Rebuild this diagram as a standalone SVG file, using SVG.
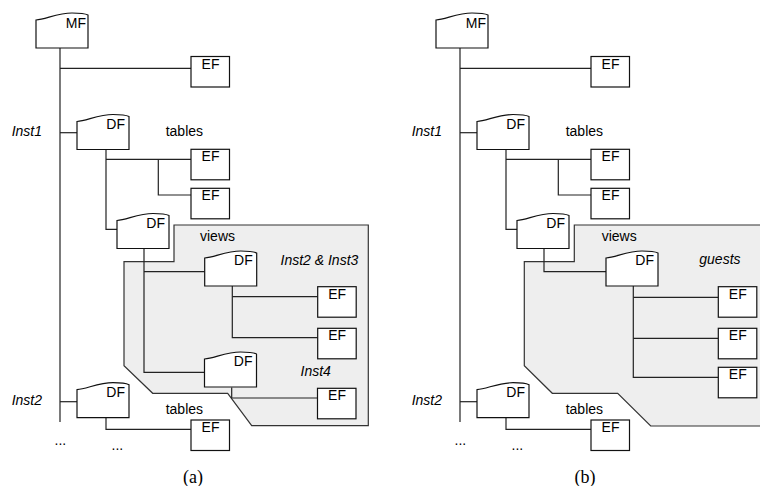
<svg xmlns="http://www.w3.org/2000/svg" xmlns:xlink="http://www.w3.org/1999/xlink" width="760" height="486" viewBox="0 0 760 486">
<style>
.box{fill:#fff;stroke:#111;stroke-width:1.2}
.ln{fill:none;stroke:#222;stroke-width:1.2}
.reg{fill:#eeeeee;stroke:#333;stroke-width:1.2}
.t{font-family:"Liberation Sans",Arial,sans-serif;font-size:14px;fill:#000}
.i{font-style:italic}
.m{text-anchor:middle}
.e{text-anchor:end}
.cap{font-family:"Liberation Serif","Times New Roman",serif;font-size:18px;text-anchor:middle;fill:#000}
</style>
<defs>
<path id="doc" d="M0,35 V7 C10,6 22,0 36,0 C44,0 49,0.5 52,2 V35 Z"/>
<rect id="ef" x="0" y="0" width="38.5" height="30.5"/>
</defs>

<g id="regions">
<path class="reg" d="M174,225 H368.3 V425.7 H251.7 L227.7,393.3 H152.7 L124,365.7 V261.7 H174 Z"/>
<path class="reg" d="M574.3,225 H772 V426 H650.7 L617.7,393.3 H552.3 L524.3,365.7 V261.7 H574.3 Z"/>
</g>

<g id="connectors">
<!-- (a) -->
<path class="ln" d="M60,48 V422"/>
<path class="ln" d="M60,68.3 H191"/>
<path class="ln" d="M60,132.7 H77"/>
<path class="ln" d="M106,149.5 V229.3 H117"/>
<path class="ln" d="M106,159.3 H191"/>
<path class="ln" d="M158.3,159.3 V195 H191"/>
<path class="ln" d="M144,248.5 V372.3 H204.5"/>
<path class="ln" d="M144,271.7 H204.7"/>
<path class="ln" d="M232.3,285.5 V337.7 H317.7"/>
<path class="ln" d="M232.3,296.7 H317.7"/>
<path class="ln" d="M231.7,387.5 V398 H317"/>
<path class="ln" d="M60,401.7 H77"/>
<path class="ln" d="M106,417.5 V429.3 H191"/>
<!-- (b) -->
<path class="ln" d="M460,48 V422"/>
<path class="ln" d="M460,68.3 H591"/>
<path class="ln" d="M460,132.7 H477"/>
<path class="ln" d="M506,149.5 V229.3 H517"/>
<path class="ln" d="M506,159.3 H591"/>
<path class="ln" d="M558.3,159.3 V195 H591"/>
<path class="ln" d="M544,248.5 V271.7 H606"/>
<path class="ln" d="M633.3,285.5 V377.3 H718.3"/>
<path class="ln" d="M633.3,297.3 H718.3"/>
<path class="ln" d="M633.3,338.3 H718.3"/>
<path class="ln" d="M460,401.7 H477"/>
<path class="ln" d="M506,417.5 V429.3 H591"/>
</g>

<!-- panel (a) nodes -->
<g id="a-mf" transform="translate(36,13)"><use href="#doc" class="box"/><text class="t e" x="50" y="14.7">MF</text></g>
<g id="a-ef1" transform="translate(191,56.5)"><use href="#ef" class="box"/><text class="t m" x="19.5" y="12">EF</text></g>
<g id="a-df1" transform="translate(77,114.5)"><use href="#doc" class="box"/><text class="t e" x="48" y="14">DF</text></g>
<g id="a-ef2" transform="translate(191,149.3)"><use href="#ef" class="box"/><text class="t m" x="19.5" y="12">EF</text></g>
<g id="a-ef3" transform="translate(191,188.3)"><use href="#ef" class="box"/><text class="t m" x="19.5" y="12">EF</text></g>
<g id="a-df2" transform="translate(117,213.5)"><use href="#doc" class="box"/><text class="t e" x="48" y="14">DF</text></g>
<g id="a-df3" transform="translate(204.7,251)"><use href="#doc" class="box"/><text class="t e" x="48" y="14">DF</text></g>
<g id="a-ef4" transform="translate(317.7,286.7)"><use href="#ef" class="box"/><text class="t m" x="19.5" y="12">EF</text></g>
<g id="a-ef5" transform="translate(317.7,328.3)"><use href="#ef" class="box"/><text class="t m" x="19.5" y="12">EF</text></g>
<g id="a-df4" transform="translate(204.5,352)"><use href="#doc" class="box"/><text class="t e" x="48" y="14">DF</text></g>
<g id="a-ef6" transform="translate(317.5,388.3)"><use href="#ef" class="box"/><text class="t m" x="19.5" y="12">EF</text></g>
<g id="a-df5" transform="translate(77,382.7)"><use href="#doc" class="box"/><text class="t e" x="48" y="14">DF</text></g>
<g id="a-ef7" transform="translate(191,420)"><use href="#ef" class="box"/><text class="t m" x="19.5" y="12">EF</text></g>

<g id="a-labels">
<text class="t i" x="11.7" y="135.5">Inst1</text>
<text class="t" x="165.7" y="136">tables</text>
<text class="t" x="200" y="240.7">views</text>
<text class="t i" x="280.5" y="265">Inst2 &amp; Inst3</text>
<text class="t i" x="300.5" y="375.7">Inst4</text>
<text class="t i" x="11.7" y="405">Inst2</text>
<text class="t" x="165.7" y="414">tables</text>
<text class="t" x="54.5" y="445">...</text>
<text class="t" x="111.5" y="449.5">...</text>
<text class="cap" x="193" y="482.5">(a)</text>
</g>

<!-- panel (b) nodes -->
<g id="b-mf" transform="translate(436,13)"><use href="#doc" class="box"/><text class="t e" x="50" y="14.7">MF</text></g>
<g id="b-ef1" transform="translate(591,56.5)"><use href="#ef" class="box"/><text class="t m" x="19.5" y="12">EF</text></g>
<g id="b-df1" transform="translate(477,114.5)"><use href="#doc" class="box"/><text class="t e" x="48" y="14">DF</text></g>
<g id="b-ef2" transform="translate(591,149.3)"><use href="#ef" class="box"/><text class="t m" x="19.5" y="12">EF</text></g>
<g id="b-ef3" transform="translate(591,188.3)"><use href="#ef" class="box"/><text class="t m" x="19.5" y="12">EF</text></g>
<g id="b-df2" transform="translate(517,213.5)"><use href="#doc" class="box"/><text class="t e" x="48" y="14">DF</text></g>
<g id="b-df3" transform="translate(606,251)"><use href="#doc" class="box"/><text class="t e" x="48" y="14">DF</text></g>
<g id="b-ef4" transform="translate(718.3,286.7)"><use href="#ef" class="box"/><text class="t m" x="19.5" y="12">EF</text></g>
<g id="b-ef5" transform="translate(718.3,328.3)"><use href="#ef" class="box"/><text class="t m" x="19.5" y="12">EF</text></g>
<g id="b-ef6" transform="translate(718.3,367.3)"><use href="#ef" class="box"/><text class="t m" x="19.5" y="12">EF</text></g>
<g id="b-df5" transform="translate(477,382.7)"><use href="#doc" class="box"/><text class="t e" x="48" y="14">DF</text></g>
<g id="b-ef7" transform="translate(591,420)"><use href="#ef" class="box"/><text class="t m" x="19.5" y="12">EF</text></g>

<g id="b-labels">
<text class="t i" x="411.7" y="135.5">Inst1</text>
<text class="t" x="565.7" y="136">tables</text>
<text class="t" x="601.7" y="240.7">views</text>
<text class="t i" x="699.3" y="263.5">guests</text>
<text class="t i" x="411.7" y="405">Inst2</text>
<text class="t" x="565.7" y="414">tables</text>
<text class="t" x="454.5" y="445">...</text>
<text class="t" x="511.5" y="449.5">...</text>
<text class="cap" x="585" y="482.5">(b)</text>
</g>
</svg>
